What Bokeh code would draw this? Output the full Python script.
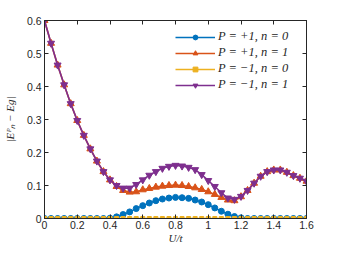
from bokeh.plotting import figure
from bokeh.models import Range1d, LinearAxis, FixedTicker, Legend, LegendItem, NumeralTickFormatter
from bokeh.embed import file_html
from bokeh.resources import INLINE

U = [0.00, 0.04, 0.08, 0.12, 0.16, 0.20, 0.24, 0.28, 0.32, 0.36,
     0.40, 0.44, 0.48, 0.52, 0.56, 0.60, 0.64, 0.68, 0.72, 0.76,
     0.80, 0.84, 0.88, 0.92, 0.96, 1.00, 1.04, 1.08, 1.12, 1.16,
     1.20, 1.24, 1.28, 1.32, 1.36, 1.40, 1.44, 1.48, 1.52, 1.56, 1.60]

p_plus_n0 = [0, 0, 0, 0, 0, 0, 0, 0, 0, 0,
             0.001, 0.005, 0.012, 0.020, 0.030, 0.039, 0.047, 0.054, 0.059, 0.062,
             0.064, 0.063, 0.061, 0.056, 0.050, 0.042, 0.032, 0.022, 0.013, 0.006,
             0.002, 0, 0, 0, 0, 0, 0, 0, 0, 0, 0]

p_plus_n1 = [0.600, 0.531, 0.465, 0.405, 0.348, 0.297, 0.252, 0.211, 0.174, 0.142,
             0.117, 0.097, 0.085, 0.080, 0.081, 0.087, 0.091, 0.095, 0.098, 0.100,
             0.101, 0.100, 0.097, 0.093, 0.088, 0.081, 0.073, 0.064, 0.056, 0.054,
             0.066, 0.085, 0.107, 0.128, 0.142, 0.147, 0.147, 0.140, 0.130, 0.122, 0.113]

p_minus_n0 = [0] * 41

p_minus_n1 = [0.600, 0.531, 0.465, 0.405, 0.348, 0.297, 0.252, 0.211, 0.174, 0.142,
              0.117, 0.100, 0.092, 0.092, 0.103, 0.117, 0.131, 0.142, 0.152, 0.158,
              0.161, 0.159, 0.155, 0.148, 0.133, 0.115, 0.097, 0.078, 0.062, 0.058,
              0.067, 0.085, 0.107, 0.128, 0.142, 0.147, 0.147, 0.140, 0.130, 0.122, 0.113]

labels = ["P = +1, n = 0", "P = +1, n = 1", "P = \u22121, n = 0", "P = \u22121, n = 1"]
colors = ["#0072BD", "#D95319", "#EDB120", "#7E2F8E"]
markers = ["circle", "triangle", "square", "inverted_triangle"]
msizes = [6, 7, 4, 7]
series = [p_plus_n0, p_plus_n1, p_minus_n0, p_minus_n1]

x_ticks = [0, 0.2, 0.4, 0.6, 0.8, 1.0, 1.2, 1.4, 1.6]
y_ticks = [0, 0.1, 0.2, 0.3, 0.4, 0.5, 0.6]

W, H = 331, 246
p = figure(width=W, height=H, x_range=Range1d(0, 1.6), y_range=Range1d(0, 0.6),
           output_backend="svg", toolbar_location=None,
           min_border_left=43, min_border_right=W - 306,
           min_border_top=20, min_border_bottom=26)
p.grid.visible = False
p.outline_line_color = "#262626"
p.outline_line_width = 1
p.background_fill_color = "white"

axcol = "#262626"
for ax, ticks in ((p.xaxis[0], x_ticks), (p.yaxis[0], y_ticks)):
    ax.ticker = FixedTicker(ticks=ticks)
    ax.formatter = NumeralTickFormatter(format="0.[0]")
    ax.major_tick_in = 4
    ax.major_tick_out = 0
    ax.minor_tick_line_color = None
    ax.axis_line_color = axcol
    ax.major_tick_line_color = axcol
    ax.major_label_text_font = "Liberation Sans"
    ax.major_label_text_font_size = "10.5px"
    ax.major_label_text_color = axcol
    ax.major_label_standoff = 3
    ax.axis_label_text_font = "Liberation Serif"
    ax.axis_label_text_font_style = "italic"
    ax.axis_label_text_font_size = "11px"
    ax.axis_label_text_color = axcol
    ax.axis_label_standoff = 8

p.xaxis[0].axis_label = "U/t"
p.xaxis[0].major_label_standoff = 2
p.xaxis[0].axis_label_standoff = 0
p.yaxis[0].axis_label = "|E\u1d3e\u2099 \u2212 Eg|"

for loc, ticks in (("above", x_ticks), ("right", y_ticks)):
    ax = LinearAxis(ticker=FixedTicker(ticks=ticks), major_tick_in=4, major_tick_out=0,
                    minor_tick_line_color=None, major_label_text_color=None,
                    major_label_text_font_size="1px", major_label_standoff=0,
                    axis_line_color=axcol, major_tick_line_color=axcol)
    p.add_layout(ax, loc)

items = []
for lab, col, mk, ms, ys in zip(labels, colors, markers, msizes, series):
    r1 = p.line(U, ys, line_color=col, line_width=1.6)
    r2 = p.scatter(U, ys, marker=mk, size=ms, fill_color=col, line_color=col)
    items.append(LegendItem(label=lab, renderers=[r1, r2]))

legend = Legend(items=items, location=(131, 126))
legend.border_line_color = None
legend.background_fill_alpha = 0
legend.label_text_font = "Liberation Serif"
legend.label_text_font_style = "italic"
legend.label_text_font_size = "12.5px"
legend.label_text_color = axcol
legend.glyph_width = 40
legend.glyph_height = 12
legend.label_standoff = 3
legend.label_height = 12
legend.spacing = 1
legend.padding = 4
legend.margin = 0
p.add_layout(legend)

open("out.html", "w").write(file_html(p, INLINE))
